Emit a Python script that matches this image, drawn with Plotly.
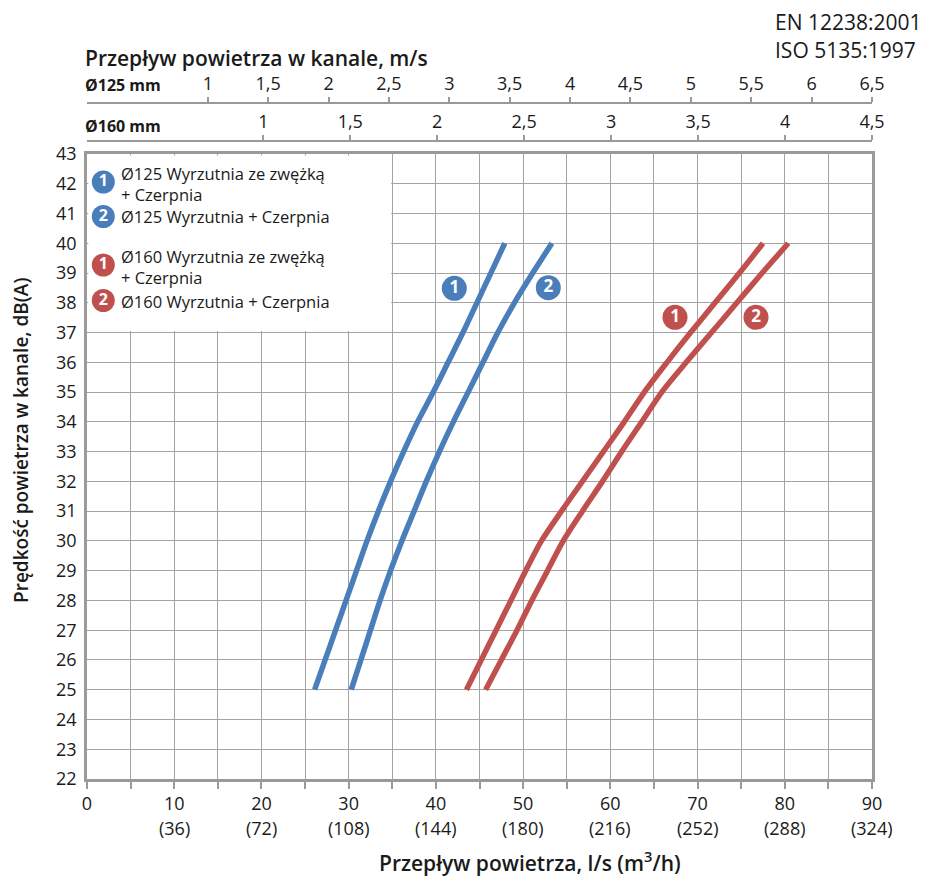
import plotly.graph_objects as go

# ---------------- data ----------------
db_levels = [25, 26, 27, 28, 29, 30, 31, 32, 33, 34, 35, 36, 37, 38, 39, 40]
flow_125_zwezka = [26.1, 27.3, 28.5, 29.7, 30.9, 32.1, 33.4, 34.8, 36.3, 37.9, 39.7, 41.4, 43.1, 44.7, 46.3, 47.9]
flow_125_std = [30.3, 31.4, 32.5, 33.6, 34.8, 36.1, 37.5, 38.9, 40.4, 42.0, 43.7, 45.4, 47.1, 49.0, 51.1, 53.3]
flow_160_zwezka = [43.5, 45.2, 46.9, 48.6, 50.3, 52.1, 54.4, 56.8, 59.2, 61.6, 63.9, 66.5, 69.2, 72.0, 74.8, 77.5]
flow_160_std = [45.7, 47.5, 49.3, 51.0, 52.8, 54.6, 56.8, 59.1, 61.3, 63.6, 65.9, 68.7, 71.6, 74.5, 77.4, 80.4]

x_m3h_vals = [10, 20, 30, 40, 50, 60, 70, 80, 90]
x_m3h_labels = ["(36)", "(72)", "(108)", "(144)", "(180)", "(216)", "(252)", "(288)", "(324)"]
y_ticks = list(range(22, 44))

v125_ticks = [1, 1.5, 2, 2.5, 3, 3.5, 4, 4.5, 5, 5.5, 6, 6.5]
v125_labels = ["1", "1,5", "2", "2,5", "3", "3,5", "4", "4,5", "5", "5,5", "6", "6,5"]
v160_ticks = [1, 1.5, 2, 2.5, 3, 3.5, 4, 4.5]
v160_labels = ["1", "1,5", "2", "2,5", "3", "3,5", "4", "4,5"]

legend_labels = ["Ø125 Wyrzutnia ze zwężką<br>+ Czerpnia", "Ø125 Wyrzutnia + Czerpnia",
                 "Ø160 Wyrzutnia ze zwężką<br>+ Czerpnia", "Ø160 Wyrzutnia + Czerpnia"]
curve_numbers = ["1", "2", "1", "2"]

BLUE = "#4a7ebb"
RED = "#c0504d"
GRID = "#a3a3a3"
FRAME = "#9a9a9a"
TXT = "#1a1a1a"
FONT = "Open Sans, DejaVu Sans, sans-serif"

# ---------------- geometry (reference pixels; page body offset compensated) ----------------
OFF = 8
W, H = 928, 878
L_REF, R_REF = 87, 872
TOP_REF, BOT_REF = 154, 779
M_T = 2
L = L_REF - OFF
R = R_REF - OFF
BOT = BOT_REF - OFF
PAPER_H = BOT - M_T


def py(p):  # reference pixel y -> paper y
    return (BOT - (p - OFF)) / PAPER_H


def px(p):  # reference pixel x -> paper x
    return (p - L_REF) / (R_REF - L_REF)


def dx(p):  # reference pixel x -> data x
    return (p - L_REF) / (R_REF - L_REF) * 90


def dy(p):  # reference pixel y -> data y
    return 22 + (BOT_REF - p) / (BOT_REF - TOP_REF) * 21


fig = go.Figure()

series = [
    (flow_125_zwezka, BLUE),
    (flow_125_std, BLUE),
    (flow_160_zwezka, RED),
    (flow_160_std, RED),
]
for xs, c in series:
    fig.add_trace(go.Scatter(
        x=xs, y=db_levels, mode="lines",
        line=dict(color=c, width=5.5, shape="spline", smoothing=0.8),
        showlegend=False, hoverinfo="skip"))

# circled numbers on curves
label_pos = [(454.3, 288.3), (548.3, 287.7), (675, 317.3), (756, 317.3)]
label_cols = [BLUE, BLUE, RED, RED]
fig.add_trace(go.Scatter(
    x=[dx(p[0]) for p in label_pos], y=[dy(p[1]) for p in label_pos],
    mode="markers+text", text=curve_numbers,
    marker=dict(size=25, color=label_cols, line=dict(width=0)),
    textfont=dict(color="white", size=17, family=FONT, weight=700),
    textposition="middle center", showlegend=False, hoverinfo="skip"))

# legend markers
leg_marker_y = [182, 216.5, 265, 300.5]
fig.add_trace(go.Scatter(
    x=[dx(103.3)] * 4, y=[dy(p) for p in leg_marker_y],
    mode="markers+text", text=curve_numbers,
    marker=dict(size=23, color=label_cols, line=dict(width=0)),
    textfont=dict(color="white", size=16, family=FONT, weight=700),
    textposition="middle center", showlegend=False, hoverinfo="skip"))

# legend white box hiding grid
fig.add_shape(type="rect", xref="x", yref="y", x0=0.15, x1=34.88, y0=37.05, y1=42.95,
              fillcolor="white", line=dict(width=0), layer="between")

annotations = []
leg_text_y = [183.5, 217, 267, 301]
for lab, yy in zip(legend_labels, leg_text_y):
    annotations.append(dict(
        x=px(119), y=py(yy), xref="paper", yref="paper", text=lab, showarrow=False,
        xanchor="left", yanchor="middle", align="left",
        font=dict(size=16.5, color=TXT, family=FONT)))

# bottom second row labels (m3/h)
for v, t in zip(x_m3h_vals, x_m3h_labels):
    annotations.append(dict(
        x=v, y=py(828), xref="x", yref="paper", text=t, showarrow=False,
        xanchor="center", yanchor="middle",
        font=dict(size=18, color=TXT, family=FONT)))

# titles & texts
annotations += [
    dict(x=px(530), y=py(861), xref="paper", yref="paper",
         text="Przepływ powietrza, l/s (m<sup>3</sup>/h)", showarrow=False,
         xanchor="center", yanchor="middle",
         font=dict(size=21, color=TXT, family=FONT, weight=600)),
    dict(x=px(21), y=py(441), xref="paper", yref="paper",
         text="Prędkość powietrza w kanale, dB(A)", showarrow=False, textangle=-90,
         xanchor="center", yanchor="middle",
         font=dict(size=19, color=TXT, family=FONT, weight=600)),
    dict(x=px(83), y=py(58), xref="paper", yref="paper",
         text="Przepływ powietrza w kanale, m/s", showarrow=False,
         xanchor="left", yanchor="middle",
         font=dict(size=21, color=TXT, family=FONT, weight=600)),
    dict(x=px(83), y=py(85), xref="paper", yref="paper",
         text="Ø125 mm", showarrow=False, xanchor="left", yanchor="middle",
         font=dict(size=16, color=TXT, family=FONT, weight=700)),
    dict(x=px(83), y=py(126), xref="paper", yref="paper",
         text="Ø160 mm", showarrow=False, xanchor="left", yanchor="middle",
         font=dict(size=16, color=TXT, family=FONT, weight=700)),
    dict(x=px(773), y=py(22), xref="paper", yref="paper",
         text="EN 12238:2001", showarrow=False, xanchor="left", yanchor="middle",
         font=dict(size=21, color=TXT, family=FONT)),
    dict(x=px(773), y=py(50), xref="paper", yref="paper",
         text="ISO 5135:1997", showarrow=False, xanchor="left", yanchor="middle",
         font=dict(size=21, color=TXT, family=FONT)),
]

tickfont = dict(size=18, color=TXT, family=FONT)

fig.update_layout(
    width=W, height=H,
    margin=dict(l=L, r=W - R, t=M_T, b=H - BOT, autoexpand=False),
    paper_bgcolor="white", plot_bgcolor="white",
    showlegend=False,
    annotations=annotations,
    xaxis=dict(
        range=[0, 90], tickmode="linear", tick0=0, dtick=10,
        showgrid=True, gridcolor=GRID, gridwidth=1.3,
        minor=dict(dtick=5, tick0=0, showgrid=True, gridcolor=GRID, gridwidth=1.3,
                   ticks="outside", ticklen=7, tickcolor=FRAME, tickwidth=1.5),
        showline=True, linecolor=FRAME, linewidth=2.5, mirror=True,
        ticks="outside", ticklen=7, tickcolor=FRAME, tickwidth=1.5,
        tickfont=tickfont, zeroline=False, anchor="y", automargin=False),
    yaxis=dict(
        range=[22, 43], domain=[0, py(TOP_REF)], tickmode="array", tickvals=y_ticks,
        showgrid=True, gridcolor=GRID, gridwidth=1.3,
        showline=True, linecolor=FRAME, linewidth=2.5, mirror=True,
        ticks="", tickfont=tickfont, zeroline=False, ticklabelstandoff=4,
        automargin=False),
    xaxis2=dict(
        overlaying="x", side="top", anchor="free", position=py(103),
        domain=[0, px(785.7)], range=[0, 6.5],
        tickmode="array", tickvals=v125_ticks, ticktext=v125_labels,
        showgrid=False, zeroline=False, showline=True, linecolor=FRAME, linewidth=2,
        ticks="outside", ticklen=5, tickcolor=FRAME, tickwidth=1.5, tickfont=tickfont,
        automargin=False),
    xaxis3=dict(
        overlaying="x", side="top", anchor="free", position=py(141),
        domain=[0, 1], range=[-0.014, 4.5],
        tickmode="array", tickvals=v160_ticks, ticktext=v160_labels,
        showgrid=False, zeroline=False, showline=True, linecolor=FRAME, linewidth=2,
        ticks="outside", ticklen=5, tickcolor=FRAME, tickwidth=1.5, tickfont=tickfont,
        automargin=False),
)

# invisible traces to activate top axes
fig.add_trace(go.Scatter(x=[None], y=[None], xaxis="x2", yaxis="y", showlegend=False, hoverinfo="skip"))
fig.add_trace(go.Scatter(x=[None], y=[None], xaxis="x3", yaxis="y", showlegend=False, hoverinfo="skip"))

fig.write_html("out.html")
